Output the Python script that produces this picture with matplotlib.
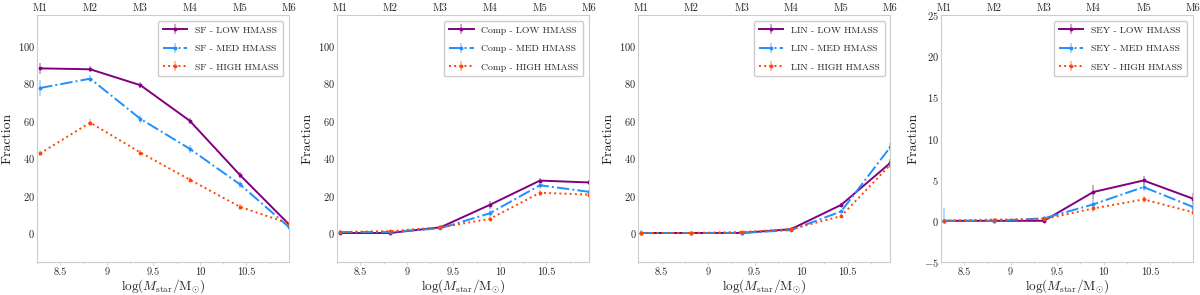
import matplotlib

matplotlib.use("Agg")

import matplotlib.pyplot as plt
import numpy as np

# stellar mass bin centres (log Mstar) and their labels on the top axis
mass_bins = [8.28, 8.82, 9.36, 9.89, 10.43, 10.96]
bin_labels = ["M1", "M2", "M3", "M4", "M5", "M6"]
bottom_ticks = [8.5, 9.0, 9.5, 10.0, 10.5]
bottom_tick_labels = ["8.5", "9", "9.5", "10", "10.5"]

classes = ["SF", "Comp", "LIN", "SEY"]
hmass_bins = ["LOW", "MED", "HIGH"]

# fractions (%) per class, for LOW / MED / HIGH halo mass
sf_low = [88.0, 87.5, 79.0, 60.0, 31.0, 4.5]
sf_med = [77.5, 82.5, 61.0, 45.0, 26.0, 3.0]
sf_high = [42.5, 59.0, 43.0, 28.5, 14.0, 5.0]
sf_low_err = [3.0, 1.5, 1.5, 1.5, 1.5, 1.0]
sf_med_err = [4.5, 2.0, 2.0, 2.0, 2.0, 1.0]
sf_high_err = [1.5, 2.0, 1.5, 1.5, 1.5, 1.0]

comp_low = [0.0, 0.0, 3.0, 15.0, 28.0, 27.0]
comp_med = [0.5, 0.5, 2.5, 10.5, 25.5, 22.0]
comp_high = [0.5, 1.0, 3.0, 7.5, 21.5, 20.5]
comp_low_err = [0.5, 0.5, 0.8, 2.0, 1.5, 1.5]
comp_med_err = [1.0, 0.5, 0.8, 2.0, 2.0, 1.5]
comp_high_err = [0.5, 0.5, 0.5, 1.0, 1.5, 1.5]

lin_low = [0.0, 0.0, 0.0, 2.0, 15.0, 37.5]
lin_med = [0.0, 0.0, 0.0, 1.5, 11.5, 46.0]
lin_high = [0.0, 0.0, 0.5, 2.0, 9.0, 36.5]
lin_low_err = [0.3, 0.2, 0.2, 0.5, 1.0, 2.0]
lin_med_err = [1.5, 0.2, 0.2, 0.5, 1.0, 2.0]
lin_high_err = [0.2, 0.2, 0.3, 0.5, 1.0, 2.0]

sey_low = [0.0, 0.0, 0.0, 3.5, 4.9, 2.7]
sey_med = [0.0, 0.0, 0.3, 2.0, 4.1, 1.7]
sey_high = [0.0, 0.15, 0.2, 1.5, 2.6, 1.05]
sey_low_err = [0.0, 0.1, 0.1, 0.9, 0.6, 0.7]
sey_med_err = [1.5, 0.1, 0.3, 0.6, 0.5, 0.5]
sey_high_err = [0.0, 0.15, 0.1, 0.4, 0.4, 0.35]

panels = [
    ("SF", [sf_low, sf_med, sf_high], [sf_low_err, sf_med_err, sf_high_err], (-15.5, 116.5), [0, 20, 40, 60, 80, 100]),
    ("Comp", [comp_low, comp_med, comp_high], [comp_low_err, comp_med_err, comp_high_err], (-15.5, 116.5), [0, 20, 40, 60, 80, 100]),
    ("LIN", [lin_low, lin_med, lin_high], [lin_low_err, lin_med_err, lin_high_err], (-15.5, 116.5), [0, 20, 40, 60, 80, 100]),
    ("SEY", [sey_low, sey_med, sey_high], [sey_low_err, sey_med_err, sey_high_err], (-5, 25), [-5, 0, 5, 10, 15, 20, 25]),
]

COLORS = ["purple", "dodgerblue", "orangered"]
STYLES = ["-", "-.", ":"]

plt.rcParams["font.family"] = ["cmr10", "DejaVu Serif"]
plt.rcParams["mathtext.fontset"] = "cm"
plt.rcParams["axes.formatter.use_mathtext"] = True
plt.rcParams["axes.edgecolor"] = "#cccccc"
plt.rcParams["text.color"] = "#262626"
plt.rcParams["axes.labelcolor"] = "#262626"
plt.rcParams["xtick.color"] = "#cccccc"
plt.rcParams["ytick.color"] = "#cccccc"
plt.rcParams["xtick.labelcolor"] = "#262626"
plt.rcParams["ytick.labelcolor"] = "#262626"

fig = plt.figure(figsize=(12, 2.95), dpi=100)
lefts = [0.031, 0.281, 0.532, 0.784]
width = 0.21
bottom = 0.112
height = 0.837

for left, (cls, series, errors, ylim, yticks) in zip(lefts, panels):
    ax = fig.add_axes([left, bottom, width, height])
    for vals, errs, hm, color, ls in zip(series, errors, hmass_bins, COLORS, STYLES):
        vals = np.array(vals)
        errs = np.array(errs)
        lower = np.minimum(errs, vals)
        ax.errorbar(
            mass_bins,
            vals,
            yerr=[lower, errs],
            color=color,
            linestyle=ls,
            linewidth=1.4,
            marker=".",
            markersize=3.5,
            ecolor=matplotlib.colors.to_rgba(color, 0.35),
            elinewidth=1.4,
            label=f"{cls} - {hm} HMASS",
        )
    ax.set_xlim(mass_bins[0], mass_bins[-1])
    ax.set_ylim(*ylim)
    ax.set_yticks(yticks)
    ax.set_yticklabels([f"${t}$" if t >= 0 else f"$-{-t}$" for t in yticks])
    ax.set_xticks(bottom_ticks)
    ax.set_xticklabels(bottom_tick_labels)
    ax.set_xticks(np.arange(8.25, 11.0, 0.25), minor=True)
    ax.tick_params(axis="both", which="major", labelsize=7.5, length=2, width=0.6, pad=2)
    ax.tick_params(axis="x", which="minor", length=1.5, width=0.6)
    ax.tick_params(axis="y", which="major", length=0, pad=1.5)
    ax.set_xlabel(r"$\log(M_{\rm star}/{\rm M}_{\odot})$", fontsize=9.5, labelpad=0)
    ax.set_ylabel("Fraction", fontsize=10, labelpad=3)
    ax.legend(loc="upper right", fontsize=7, framealpha=1, edgecolor="#cccccc",
              handlelength=2.5, borderpad=0.5, labelspacing=1.0, borderaxespad=0.6)

    top = ax.twiny()
    top.set_xlim(ax.get_xlim())
    top.set_xticks(mass_bins)
    top.set_xticklabels(bin_labels)
    top.tick_params(axis="x", labelsize=7.5, length=0, pad=1.5)
    for spine in top.spines.values():
        spine.set_visible(False)

fig.savefig("out.png", dpi=100)
